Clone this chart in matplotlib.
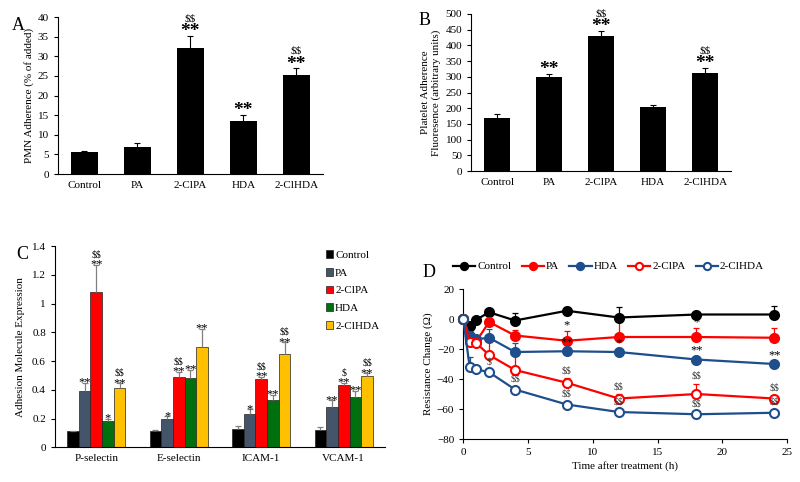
import numpy as np
import matplotlib.pyplot as plt

plt.rcParams['font.family'] = ['Liberation Serif', 'DejaVu Serif']
plt.rcParams['font.size'] = 8
plt.rcParams['axes.linewidth'] = 0.8
plt.rcParams['text.parse_math'] = False

groups = ['Control', 'PA', '2-ClPA', 'HDA', '2-ClHDA']

# A: PMN adherence
pmn_mean = [5.5, 7.0, 32.2, 13.5, 25.3]
pmn_err = [0.4, 0.8, 3.0, 1.5, 1.6]
pmn_star = ['', '', '**', '**', '**']
pmn_dollar = ['', '', '$$', '', '$$']

# B: platelet adherence
plt_mean = [168, 300, 430, 204, 313]
plt_err = [15, 8, 17, 5, 16]
plt_star = ['', '**', '**', '', '**']
plt_dollar = ['', '', '$$', '', '$$']

# C: adhesion molecules
molecules = ['P-selectin', 'E-selectin', 'ICAM-1', 'VCAM-1']
c_control = [0.111, 0.115, 0.127, 0.120]
c_pa = [0.392, 0.195, 0.234, 0.280]
c_clpa = [1.078, 0.491, 0.473, 0.431]
c_hda = [0.183, 0.484, 0.329, 0.352]
c_clhda = [0.410, 0.695, 0.651, 0.496]
c_control_err = [0.005, 0.005, 0.023, 0.018]
c_pa_err = [0.055, 0.020, 0.030, 0.047]
c_clpa_err = [0.190, 0.035, 0.018, 0.019]
c_hda_err = [0.014, 0.054, 0.035, 0.042]
c_clhda_err = [0.035, 0.130, 0.079, 0.018]
c_pa_sig = ['**', '*', '*', '**']
c_clpa_sig = ['**\n$$', '**\n$$', '**\n$$', '**\n$']
c_hda_sig = ['*', '**', '**', '**']
c_clhda_sig = ['**\n$$', '**', '**\n$$', '**\n$$']

# D: resistance over time
hours = [0, 0.5, 1, 2, 4, 8, 12, 18, 24]
d_control = [0, -4.5, -0.5, 4.5, -1, 5.5, 1, 3, 3]
d_pa = [0, -13, -15, -2, -11, -14.5, -12, -12, -12.5]
d_hda = [0, -11, -13.5, -12.5, -22, -21.5, -22, -27, -30]
d_clpa = [0, -15, -16, -24, -34, -42.5, -53, -50, -53]
d_clhda = [0, -32, -33.5, -35.5, -47, -57, -62, -63.5, -62.5]
d_control_err = [0, 2, 2, 1.5, 5, 1, 7, 1, 6]
d_pa_err = [0, 3, 3, 1, 4, 6.5, 11, 6, 6.5]
d_hda_err = [0, 3, 2, 6, 6, 2, 2, 2, 2]
d_clpa_err = [0, 3, 3, 11, 12, 3, 3, 7, 2]
d_clhda_err = [0, 7, 2, 2, 2, 2, 2, 2, 2]
d_pa_sig = ['', '', '', '', '', '*', '', '*', '']
d_hda_sig = ['', '', '', '', '', '**', '*', '**', '**']
d_clpa_sig = ['', '', '', '', '', '$$', '$$', '$$', '$$']
d_clhda_sig = ['', '', '', '$', '$$', '$$', '$$', '$$', '$$']

fig = plt.figure(figsize=(8, 4.82), dpi=100)


def upper_err(ax, x, y, err, color, lw=0.8, cap=2.5, z=3):
    eb = ax.errorbar(x, y, yerr=[np.zeros(len(err)), err], fmt='none',
                     ecolor=color, elinewidth=lw, capsize=cap, capthick=lw, zorder=z)
    eb[1][0].set_visible(False)
    return eb


def style(ax):
    ax.spines['top'].set_visible(False)
    ax.spines['right'].set_visible(False)
    ax.tick_params(axis='y', direction='out', length=3, width=0.8)


def bar_panel(ax, means, errs, stars, dollars, ylim, step):
    x = np.arange(len(groups))
    ax.bar(x, means, width=0.5, color='black', zorder=2)
    upper_err(ax, x, means, errs, 'black')
    for xi, m, e, s, d in zip(x, means, errs, stars, dollars):
        top = m + e
        if s:
            ax.annotate(s, (xi, top), xytext=(0, -3), textcoords='offset points',
                        ha='center', va='bottom', fontsize=14, fontweight='bold')
        if d:
            ax.annotate(d, (xi, top), xytext=(0, 9), textcoords='offset points',
                        ha='center', va='bottom', fontsize=8)
    ax.set_xlim(-0.5, len(groups) - 0.5)
    ax.set_ylim(*ylim)
    ax.set_yticks(np.arange(ylim[0], ylim[1] + step / 2, step))
    ax.set_xticks(x)
    ax.set_xticklabels(groups)
    ax.tick_params(axis='x', length=0, pad=5)
    style(ax)


# Panel A
axA = fig.add_axes([0.0725, 0.639, 0.331, 0.3257])
bar_panel(axA, pmn_mean, pmn_err, pmn_star, pmn_dollar, (0, 40), 5)
axA.set_ylabel('PMN Adherence (% of added)', labelpad=3)
fig.text(0.015, 0.965, 'A', fontsize=13, va='top')

# Panel B
axB = fig.add_axes([0.589, 0.645, 0.325, 0.326])
bar_panel(axB, plt_mean, plt_err, plt_star, plt_dollar, (0, 500), 50)
axB.set_ylabel('Platelet Adherence\nFluoresence (arbitrary units)', labelpad=3, linespacing=1.3)
fig.text(0.523, 0.975, 'B', fontsize=13, va='top')

# Panel C
axC = fig.add_axes([0.06875, 0.072, 0.4125, 0.4176])
xc = np.arange(len(molecules))
bw = 0.141
c_series = [('Control', c_control, c_control_err, None, 'black'),
            ('PA', c_pa, c_pa_err, c_pa_sig, '#44546A'),
            ('2-ClPA', c_clpa, c_clpa_err, c_clpa_sig, '#FF0000'),
            ('HDA', c_hda, c_hda_err, c_hda_sig, '#00700F'),
            ('2-ClHDA', c_clhda, c_clhda_err, c_clhda_sig, '#FFC000')]
for i, (name, vals, errs, sig, col) in enumerate(c_series):
    xs = xc + (i - 2) * bw
    axC.bar(xs, vals, width=bw, color=col, edgecolor='#222222', linewidth=0.5,
            label=name, zorder=2)
    upper_err(axC, xs, vals, errs, '#808080', lw=0.9, cap=2)
    if sig:
        for xi, v, e, s in zip(xs, vals, errs, sig):
            lines = s.split('\n')
            axC.annotate(lines[0], (xi, v + e), xytext=(0, -4), textcoords='offset points',
                         ha='center', va='bottom', fontsize=9)
            if len(lines) > 1:
                axC.annotate(lines[1], (xi, v + e), xytext=(0, 4), textcoords='offset points',
                             ha='center', va='bottom', fontsize=7)
axC.set_xlim(-0.5, len(molecules) - 0.5)
axC.set_ylim(0, 1.4)
cticks = np.arange(0, 1.41, 0.2)
axC.set_yticks(cticks)
axC.set_yticklabels(['%g' % round(t, 1) for t in cticks])
axC.set_xticks(xc)
axC.set_xticklabels(molecules)
axC.tick_params(axis='x', length=0, pad=5)
style(axC)
axC.set_ylabel('Adhesion Molecule Expression', labelpad=5)
axC.legend(loc='upper left', bbox_to_anchor=(0.79, 1.03), frameon=False,
           handlelength=0.7, handleheight=0.7, handletextpad=0.15, labelspacing=0.72,
           fontsize=8)
fig.text(0.02, 0.49, 'C', fontsize=13, va='top')

# Panel D
axD = fig.add_axes([0.579, 0.0892, 0.405, 0.3112])
d_series = [('Control', d_control, d_control_err, None, 'black', True),
            ('PA', d_pa, d_pa_err, d_pa_sig, '#FF0000', True),
            ('HDA', d_hda, d_hda_err, d_hda_sig, '#1F4E8C', True),
            ('2-ClPA', d_clpa, d_clpa_err, d_clpa_sig, '#FF0000', False),
            ('2-ClHDA', d_clhda, d_clhda_err, d_clhda_sig, '#1F4E8C', False)]
handles = []
for name, vals, errs, sig, col, filled in d_series:
    upper_err(axD, hours, vals, errs, col, lw=0.9, cap=2, z=2)
    ln, = axD.plot(hours, vals, color=col, lw=1.6, marker='o', markersize=6.5,
                   markerfacecolor=col if filled else 'white', markeredgecolor=col,
                   markeredgewidth=1.5, label=name, zorder=3, clip_on=False)
    handles.append(ln)
    if sig:
        for h, v, e, s in zip(hours, vals, errs, sig):
            if not s:
                continue
            if '$' in s:
                axD.annotate(s, (h, v + e), xytext=(0, 2), textcoords='offset points',
                             ha='center', va='bottom', fontsize=7, color='#333333')
            else:
                axD.annotate(s, (h, v + e), xytext=(0, 0), textcoords='offset points',
                             ha='center', va='bottom', fontsize=9)
axD.set_xlim(0, 25)
axD.set_ylim(-80, 20)
axD.set_xticks(np.arange(0, 26, 5))
axD.set_yticks(np.arange(-80, 21, 20))
style(axD)
axD.tick_params(axis='x', direction='out', length=3, width=0.8)
axD.set_xlabel('Time after treatment (h)', labelpad=3)
axD.set_ylabel('Resistance Change (\u03a9)', labelpad=3)
axD.legend(handles=handles, loc='center left', bbox_to_anchor=(-0.045, 1.15), ncol=5,
           frameon=False, handlelength=2.0, handletextpad=0.2, columnspacing=0.9,
           markerscale=0.8, fontsize=8, borderaxespad=0)
fig.text(0.528, 0.452, 'D', fontsize=13, va='top')

fig.savefig('out.png', dpi=100)
